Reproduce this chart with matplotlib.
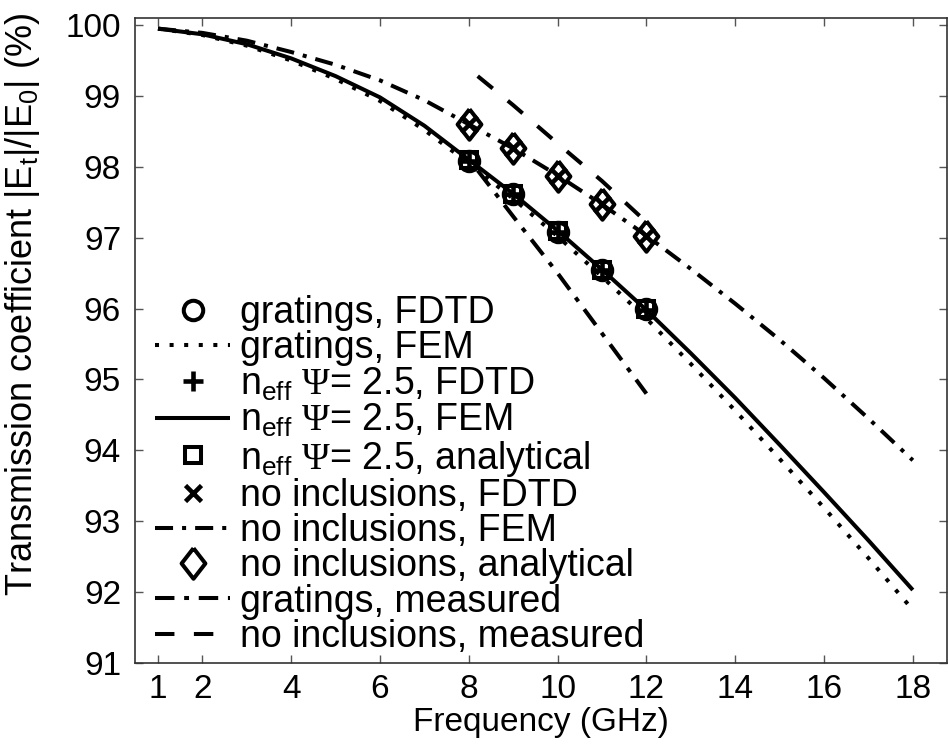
import matplotlib
matplotlib.use('Agg')
import matplotlib.pyplot as plt

plt.rcParams['font.family'] = ['Liberation Sans', 'DejaVu Sans']
plt.rcParams['mathtext.fontset'] = 'custom'
plt.rcParams['mathtext.rm'] = 'Liberation Serif'
plt.rcParams['mathtext.sf'] = 'Liberation Sans'
plt.rcParams['mathtext.it'] = 'Liberation Sans:italic'
plt.rcParams['mathtext.bf'] = 'Liberation Sans:bold'
plt.rcParams['lines.scale_dashes'] = False

# ---------------- data ----------------
freq_fem = [1, 2, 3, 4, 5, 6, 7, 8, 9, 10, 11, 12, 13, 14, 15, 16, 17, 18]
gratings_fem = [99.95, 99.86, 99.71, 99.50, 99.24, 98.93, 98.52, 98.05, 97.55,
                97.02, 96.45, 95.86, 95.22, 94.56, 93.88, 93.19, 92.48, 91.75]
neff_fem = [99.95, 99.87, 99.73, 99.53, 99.28, 98.98, 98.58, 98.10, 97.62,
            97.10, 96.55, 95.98, 95.37, 94.74, 94.08, 93.41, 92.73, 92.03]
noinc_fem = [99.95, 99.89, 99.78, 99.62, 99.44, 99.22, 98.94, 98.60, 98.26,
             97.88, 97.47, 97.03, 96.56, 96.07, 95.56, 95.02, 94.45, 93.86]

freq_pts = [8, 9, 10, 11, 12]
gratings_fdtd = [98.08, 97.62, 97.08, 96.54, 95.99]
neff_fdtd = [98.08, 97.61, 97.08, 96.54, 95.98]
neff_analytical = [98.09, 97.62, 97.09, 96.55, 95.99]
noinc_fdtd = [98.61, 98.27, 97.87, 97.48, 97.02]
noinc_analytical = [98.61, 98.27, 97.87, 97.48, 97.02]

freq_meas = [8.2, 9, 10, 11, 12]
gratings_meas = [97.95, 97.30, 96.50, 95.65, 94.80]
noinc_meas = [99.28, 98.87, 98.33, 97.80, 97.22]

xticks = [1, 2, 4, 6, 8, 10, 12, 14, 16, 18]
yticks = [91, 92, 93, 94, 95, 96, 97, 98, 99, 100]

labels = ['gratings, FDTD',
          'gratings, FEM',
          r'n$_{\mathsf{eff}}$ $\mathrm{\Psi}$= 2.5, FDTD',
          r'n$_{\mathsf{eff}}$ $\mathrm{\Psi}$= 2.5, FEM',
          r'n$_{\mathsf{eff}}$ $\mathrm{\Psi}$= 2.5, analytical',
          'no inclusions, FDTD',
          'no inclusions, FEM',
          'no inclusions, analytical',
          'gratings, measured',
          'no inclusions, measured']

# ---------------- figure ----------------
W, H = 948, 745
fig = plt.figure(figsize=(W / 100, H / 100), dpi=100)
ax = fig.add_axes([135 / W, 1 - 663 / H, (947 - 135) / W, (663 - 18) / H])

FS = 24
LFS = 27
LW = 2.9
MEW = 2.9
diamond = [(0, 1), (0.78, 0), (0, -1), (-0.78, 0), (0, 1)]

h = {}
h['gfem'], = ax.plot(freq_fem, gratings_fem, color='k', lw=LW, dashes=(2.9, 7.6),
                     dash_capstyle='butt')
h['nfem'], = ax.plot(freq_fem, neff_fem, color='k', lw=LW, solid_capstyle='butt')
h['ifem'], = ax.plot(freq_fem, noinc_fem, color='k', lw=LW,
                     dashes=(13, 6.5, 2.9, 6.5), dash_capstyle='butt')
h['gmeas'], = ax.plot(freq_meas, gratings_meas, color='k', lw=LW,
                      dashes=(14, 7, 3.5, 7), dash_capstyle='butt')
h['imeas'], = ax.plot(freq_meas, noinc_meas, color='k', lw=LW,
                      dashes=(14, 14), dash_capstyle='butt')

h['gfdtd'], = ax.plot(freq_pts, gratings_fdtd, ls='none', marker='o', ms=14,
                      mfc='none', mec='k', mew=MEW)
h['nfdtd'], = ax.plot(freq_pts, neff_fdtd, ls='none', marker='+', ms=14,
                      mec='k', mew=MEW + 0.4)
h['nana'], = ax.plot(freq_pts, neff_analytical, ls='none', marker='s', ms=11.5,
                     mfc='none', mec='k', mew=MEW)
h['ifdtd'], = ax.plot(freq_pts, noinc_fdtd, ls='none', marker='x', ms=11,
                      mec='k', mew=MEW + 0.4)
h['iana'], = ax.plot(freq_pts, noinc_analytical, ls='none', marker=diamond, ms=22,
                     mfc='none', mec='k', mew=MEW)

order = ['gfdtd', 'gfem', 'nfdtd', 'nfem', 'nana', 'ifdtd', 'ifem', 'iana',
         'gmeas', 'imeas']
leg = ax.legend([h[k] for k in order], labels, loc='upper left',
                bbox_to_anchor=(155 / W, 1 - 295 / H), bbox_transform=fig.transFigure,
                frameon=False, fontsize=LFS, numpoints=1, handlelength=2.0,
                handletextpad=0.27, labelspacing=-0.02, borderpad=0,
                borderaxespad=0)

ax.set_xlim(0.482, 18.77)
ax.set_ylim(91, 100.1)
ax.set_xticks(xticks)
ax.set_xticklabels([str(t) for t in xticks])
ax.set_yticks(yticks)
ax.set_yticklabels([str(t) for t in yticks])
ax.tick_params(direction='in', length=6, width=1.0, color='#555555',
               top=True, right=True, labelsize=FS, pad=8)
ax.tick_params(axis='y', pad=10)
for s in ax.spines.values():
    s.set_linewidth(1.2)
    s.set_color('#333333')

ax.set_xlabel('Frequency (GHz)', fontsize=FS, labelpad=1)
ax.set_ylabel(r'Transmission coefficient |E$_{\mathsf{t}}$|/|E$_{\mathsf{0}}$| (%)',
              fontsize=26)
ax.yaxis.set_label_coords((42 - 135) / 812, (663 - 304) / 645)

fig.savefig('out.png', dpi=100)
